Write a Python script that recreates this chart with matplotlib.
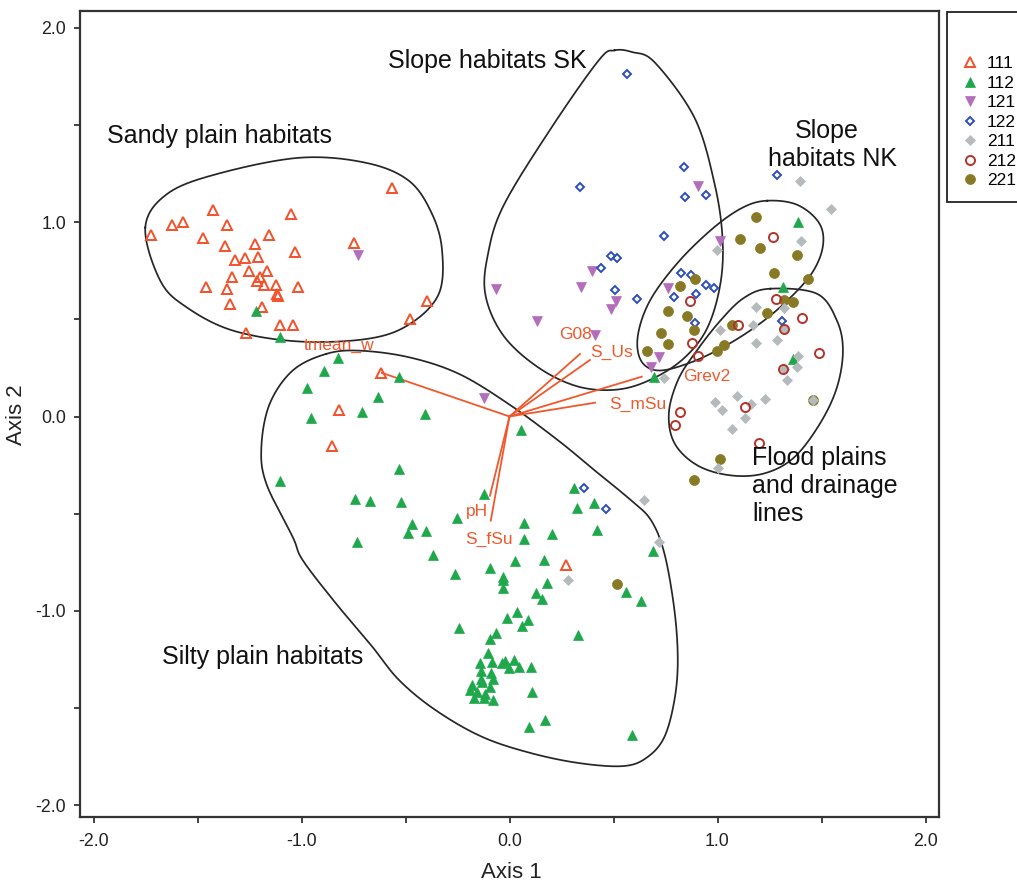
import numpy as np
import matplotlib
matplotlib.use("Agg")
import matplotlib.pyplot as plt
from matplotlib.lines import Line2D

plt.rcParams['font.family'] = ['Liberation Sans', 'DejaVu Sans']

# ---------------- data ----------------
g111_x = [-0.566, -1.424, -1.051, -1.622, -1.568, -1.360, -1.724, -1.472, -1.156, -1.367, -1.225, -0.746,
          -1.029, -1.319, -1.271, -1.209, -1.252, -1.164, -1.332, -1.198, -1.214, -1.459, -1.360, -1.181,
          -1.124, -1.016, -1.117, -1.115, -1.344, -1.188, -0.396, -0.477, -1.265, -1.103, -1.042,
          -0.619, -0.821, -0.853, 0.274]
g111_y = [1.176, 1.063, 1.042, 0.987, 1.003, 0.987, 0.932, 0.918, 0.932, 0.877, 0.888, 0.891,
          0.845, 0.805, 0.817, 0.823, 0.751, 0.751, 0.720, 0.720, 0.699, 0.668, 0.658, 0.679,
          0.679, 0.668, 0.631, 0.620, 0.579, 0.562, 0.593, 0.501, 0.432, 0.473, 0.473,
          0.223, 0.031, -0.154, -0.763]

g112_x = [-1.220, -1.103,
          -0.826, -0.893, -0.531, -0.975, -0.630, -0.954, -0.711, -0.408, 0.056, -0.531, -1.102, -0.745,
          -0.670, -0.523, -0.124, -0.252, -0.467, -0.488, -0.403, -0.734, -0.368, 0.070, 0.070, 0.202,
          0.027, 0.167, -0.092, -0.260, -0.029,
          0.309, 0.325, 0.407, 0.420, 0.689, -0.032, -0.032, 0.179, 0.128, 0.158, 0.561, 0.630, 0.035,
          -0.011, 0.091, 0.062, -0.241, -0.066, -0.092, 0.330, 0.094, 0.171, 0.589,
          -0.104, -0.140, -0.085, -0.037, -0.021, 0.024, -0.001, 0.046, 0.104, -0.135, -0.088, -0.077,
          -0.135, -0.133, -0.180, -0.092, -0.188, -0.156, -0.116, -0.172, -0.124, -0.077, 0.107,
          1.389, 1.314, 1.362, 0.697]
g112_y = [0.545, 0.408,
          0.302, 0.233, 0.202, 0.147, 0.099, -0.009, 0.021, 0.014, -0.069, -0.271, -0.332, -0.423,
          -0.435, -0.440, -0.401, -0.523, -0.555, -0.600, -0.590, -0.648, -0.711, -0.548, -0.629, -0.607,
          -0.744, -0.740, -0.778, -0.809, -0.826,
          -0.367, -0.471, -0.446, -0.583, -0.692, -0.843, -0.881, -0.857, -0.908, -0.937, -0.903, -0.951, -1.006,
          -1.037, -1.046, -1.080, -1.087, -1.114, -1.143, -1.123, -1.597, -1.563, -1.640,
          -1.217, -1.268, -1.263, -1.268, -1.258, -1.251, -1.297, -1.292, -1.289, -1.310, -1.320, -1.349,
          -1.349, -1.366, -1.383, -1.392, -1.409, -1.417, -1.426, -1.451, -1.451, -1.457, -1.417,
          0.999, 0.668, 0.295, 0.202]

g121_x = [-0.726, -0.124, 0.904, 1.011, -0.064, 0.346, 0.397, 0.131, 0.514, 0.490, 0.761, 0.410, 0.721, 0.678]
g121_y = [0.833, 0.094, 1.188, 0.905, 0.657, 0.668, 0.751, 0.490, 0.593, 0.553, 0.662, 0.422, 0.308, 0.253]

g122_x = [0.563, 0.841, 0.341, 0.842, 0.946, 1.287, 0.745, 0.486, 0.517, 0.442, 0.825, 0.872, 0.509,
          0.944, 0.984, 0.614, 0.896, 0.793, 0.891, 1.308, 0.359, 0.466]
g122_y = [1.765, 1.285, 1.183, 1.128, 1.138, 1.244, 0.929, 0.826, 0.816, 0.765, 0.737, 0.730, 0.651,
          0.679, 0.662, 0.605, 0.631, 0.617, 0.480, 0.490, -0.367, -0.475]

g211_x = [1.396, 1.547, 1.403, 0.997, 1.183, 1.013, 1.172, 1.319, 1.287, 1.185, 1.319, 1.389, 1.383, 1.319,
          1.332, 0.745, 1.092, 1.228, 0.987, 1.024, 1.133, 1.163, 1.068, 1.000, 1.459, 0.649, 0.721, 0.279]
g211_y = [1.210, 1.068, 0.901, 0.857, 0.566, 0.446, 0.473, 0.559, 0.394, 0.377, 0.451, 0.314, 0.253, 0.245,
          0.189, 0.199, 0.108, 0.089, 0.075, 0.034, -0.007, 0.062, -0.065, -0.264, 0.087, -0.428, -0.646, -0.840]

g212_x = [1.268, 0.869, 1.281, 1.408, 1.099, 1.322, 0.876, 0.904, 1.488, 1.314, 1.131, 0.821, 0.796, 1.201]
g212_y = [0.922, 0.596, 0.603, 0.507, 0.469, 0.450, 0.380, 0.314, 0.326, 0.242, 0.048, 0.021, -0.043, -0.137]

g221_x = [1.187, 1.108, 1.203, 1.384, 1.274, 1.435, 0.892, 0.821, 0.764, 0.853, 0.885, 0.729, 0.764, 0.662,
          1.319, 1.362, 1.239, 1.072, 1.032, 0.997, 1.013, 0.885, 1.459, 0.515]
g221_y = [1.028, 0.913, 0.866, 0.831, 0.739, 0.708, 0.708, 0.670, 0.541, 0.519, 0.446, 0.428, 0.373, 0.339,
          0.600, 0.588, 0.535, 0.473, 0.370, 0.339, -0.218, -0.326, 0.087, -0.861]

# environmental vectors (biplot)
vec_names = ['tmean_w', 'G08', 'S_Us', 'Grev2', 'S_mSu', 'pH', 'S_fSu']
vec_x = [-0.614, 0.339, 0.387, 0.636, 0.411, -0.094, -0.090]
vec_y = [0.225, 0.322, 0.291, 0.205, 0.071, -0.408, -0.536]

# ---------------- helpers ----------------
def closed_spline(pts, n=40):
    P = np.asarray(pts, dtype=float)
    N = len(P)
    t = np.linspace(0, 1, n, endpoint=False)[:, None]
    segs = []
    for i in range(N):
        p0, p1, p2, p3 = P[(i - 1) % N], P[i], P[(i + 1) % N], P[(i + 2) % N]
        seg = 0.5 * ((2 * p1) + (-p0 + p2) * t + (2 * p0 - 5 * p1 + 4 * p2 - p3) * t ** 2
                     + (-p0 + 3 * p1 - 3 * p2 + p3) * t ** 3)
        segs.append(seg)
    out = np.vstack(segs)
    return np.vstack([out, out[:1]])

hull_sandy = [(-1.751, 0.973), (-1.679, 0.699), (-1.552, 0.562), (-1.329, 0.442), (-1.010, 0.386),
              (-0.675, 0.401), (-0.478, 0.477), (-0.340, 0.631), (-0.324, 0.853), (-0.372, 1.042),
              (-0.483, 1.213), (-0.690, 1.306), (-1.010, 1.332), (-1.408, 1.248), (-1.647, 1.145)]
hull_sk = [(0.505, 1.885), (0.590, 1.876), (0.699, 1.822), (0.890, 1.537), (0.986, 1.198), (1.024, 0.920),
           (1.014, 0.684), (0.952, 0.458), (0.842, 0.303), (0.689, 0.195), (0.522, 0.139), (0.330, 0.154),
           (0.139, 0.252), (-0.029, 0.416), (-0.115, 0.622), (-0.105, 0.828), (-0.029, 1.085),
           (0.201, 1.486), (0.430, 1.835)]
hull_nk = [(1.239, 1.111), (1.383, 1.090), (1.488, 0.997), (1.507, 0.879), (1.455, 0.740), (1.335, 0.596),
           (1.191, 0.468), (1.024, 0.355), (0.856, 0.272), (0.713, 0.237), (0.632, 0.288), (0.617, 0.416),
           (0.675, 0.596), (0.809, 0.792), (0.976, 0.967), (1.120, 1.075)]
hull_flood = [(1.254, 0.658), (1.478, 0.632), (1.574, 0.494), (1.603, 0.339), (1.574, 0.149), (1.493, -0.036),
              (1.368, -0.211), (1.225, -0.293), (1.062, -0.303), (0.904, -0.252), (0.794, -0.139), (0.766, 0.015),
              (0.809, 0.185), (0.890, 0.324), (1.014, 0.494), (1.129, 0.612)]
hull_silty = [(-0.882, 0.322), (-0.722, 0.339), (-0.483, 0.305), (-0.244, 0.220), (-0.005, 0.065),
              (0.234, -0.123), (0.410, -0.278), (0.585, -0.432), (0.681, -0.535), (0.745, -0.706),
              (0.793, -0.997), (0.809, -1.254), (0.793, -1.460), (0.745, -1.649), (0.665, -1.752),
              (0.554, -1.799), (0.346, -1.786), (0.107, -1.734), (-0.132, -1.649), (-0.355, -1.512),
              (-0.531, -1.357), (-0.659, -1.186), (-0.834, -0.963), (-0.994, -0.740), (-1.042, -0.621),
              (-1.169, -0.346), (-1.193, -0.158), (-1.153, 0.065), (-1.042, 0.237)]

# ---------------- figure ----------------
W, H = 1017, 886
fig = plt.figure(figsize=(W / 100, H / 100), dpi=100)
ax = fig.add_axes([80 / W, 1 - 816.7 / H, (939 - 80) / W, (816.7 - 10.5) / H])

x0, sx = 509.5, 208.0
y0, sy = 416.5, 194.25
ax.set_xlim((80 - x0) / sx, (939 - x0) / sx)
ax.set_ylim((y0 - 816.7) / sy, (y0 - 10.5) / sy)

hull_kw = dict(color='#262626', lw=1.25, zorder=2)
for h in [hull_sandy, hull_sk, hull_nk, hull_flood, hull_silty]:
    c = closed_spline(h)
    ax.plot(c[:, 0], c[:, 1], **hull_kw)

vec_col = '#F0582C'
for vx, vy in zip(vec_x, vec_y):
    ax.plot([0, vx], [0, vy], color=vec_col, lw=1.3, zorder=3)

lab_pos = {'tmean_w': (-0.820, 0.368), 'G08': (0.315, 0.420), 'S_Us': (0.491, 0.328),
           'Grev2': (0.950, 0.208), 'S_mSu': (0.616, 0.064), 'pH': (-0.158, -0.490),
           'S_fSu': (-0.099, -0.632)}
for nm in vec_names:
    px, py = lab_pos[nm]
    ax.text(px, py, nm, color=vec_col, fontsize=12.5, ha='center', va='center', zorder=6)

styles = {
    '111': dict(marker='^', ms=7.0, mfc='none', mec='#F2512B', mew=1.4, ls='none'),
    '112': dict(marker='^', ms=7.5, mfc='#1EA84B', mec='#1EA84B', mew=0.5, ls='none'),
    '121': dict(marker='v', ms=7.8, mfc='#B36DBA', mec='#B36DBA', mew=0.5, ls='none'),
    '122': dict(marker='D', ms=4.5, mfc='none', mec='#2D4DBD', mew=1.4, ls='none'),
    '211': dict(marker='D', ms=4.7, mfc='#B5BABD', mec='#B5BABD', mew=0.5, ls='none'),
    '212': dict(marker='o', ms=6.5, mfc='none', mec='#B3342C', mew=1.4, ls='none'),
    '221': dict(marker='o', ms=7.2, mfc='#887A24', mec='#887A24', mew=0.5, ls='none'),
}
data = {'111': (g111_x, g111_y), '112': (g112_x, g112_y), '121': (g121_x, g121_y),
        '122': (g122_x, g122_y), '211': (g211_x, g211_y), '212': (g212_x, g212_y),
        '221': (g221_x, g221_y)}
for k in ['111', '112', '121', '122', '221', '211', '212']:
    xs, ys = data[k]
    ax.plot(xs, ys, zorder=4, **styles[k])

# region annotations
tk = dict(fontsize=18, color='#111111', va='baseline', ha='left', zorder=7)
def dx(p): return (p - x0) / sx
def dy(p): return (y0 - p) / sy
ax.text(dx(107), dy(143), 'Sandy plain habitats', **tk)
ax.text(dx(388), dy(68), 'Slope habitats SK', **tk)
ax.text(dx(795), dy(138), 'Slope', **tk)
ax.text(dx(768), dy(166), 'habitats NK', **tk)
ax.text(dx(752), dy(521), 'Flood plains\nand drainage\nlines', fontsize=18, color='#111111',
        va='baseline', ha='left', linespacing=1.2, zorder=7)
ax.text(dx(162), dy(664), 'Silty plain habitats', **tk)

# axes styling
for s in ax.spines.values():
    s.set_linewidth(1.6)
    s.set_color('#333333')
ax.set_xticks([-2, -1, 0, 1, 2])
ax.set_yticks([-2, -1, 0, 1, 2])
ax.set_xticklabels(['-2.0', '-1.0', '0.0', '1.0', '2.0'])
ax.set_yticklabels(['-2.0', '-1.0', '0.0', '1.0', '2.0'])
ax.set_xticks([-1.5, -0.5, 0.5, 1.5], minor=True)
ax.set_yticks([-1.5, -0.5, 0.5, 1.5], minor=True)
ax.tick_params(which='both', direction='out', length=4, width=1.3, color='#333333')
ax.tick_params(axis='x', which='major', labelsize=12.8, pad=8, labelcolor='#222222')
ax.tick_params(axis='y', which='major', labelsize=12.8, pad=6, labelcolor='#222222')

fig.text(511 / W, 1 - 873 / H, 'Axis 1', fontsize=16, ha='center', va='center', color='#222222')
fig.text(17 / W, 1 - 415 / H, 'Axis 2', fontsize=16, ha='center', va='center', rotation=90,
         color='#222222')

# legend
order = ['111', '112', '121', '122', '211', '212', '221']
handles = [Line2D([], [], **styles[k]) for k in order]
leg = fig.legend(handles, order, loc='upper left', bbox_to_anchor=(947 / W, 1 - 12 / H),
                 bbox_transform=fig.transFigure, fontsize=12.5, title=' ', title_fontsize=20,
                 labelspacing=0.25, handlelength=1.0, handletextpad=0.5, borderpad=0.8,
                 borderaxespad=0, frameon=True, fancybox=False, framealpha=1)
leg.get_frame().set_edgecolor('#222222')
leg.get_frame().set_linewidth(1.3)

fig.savefig('out.png', dpi=100)
